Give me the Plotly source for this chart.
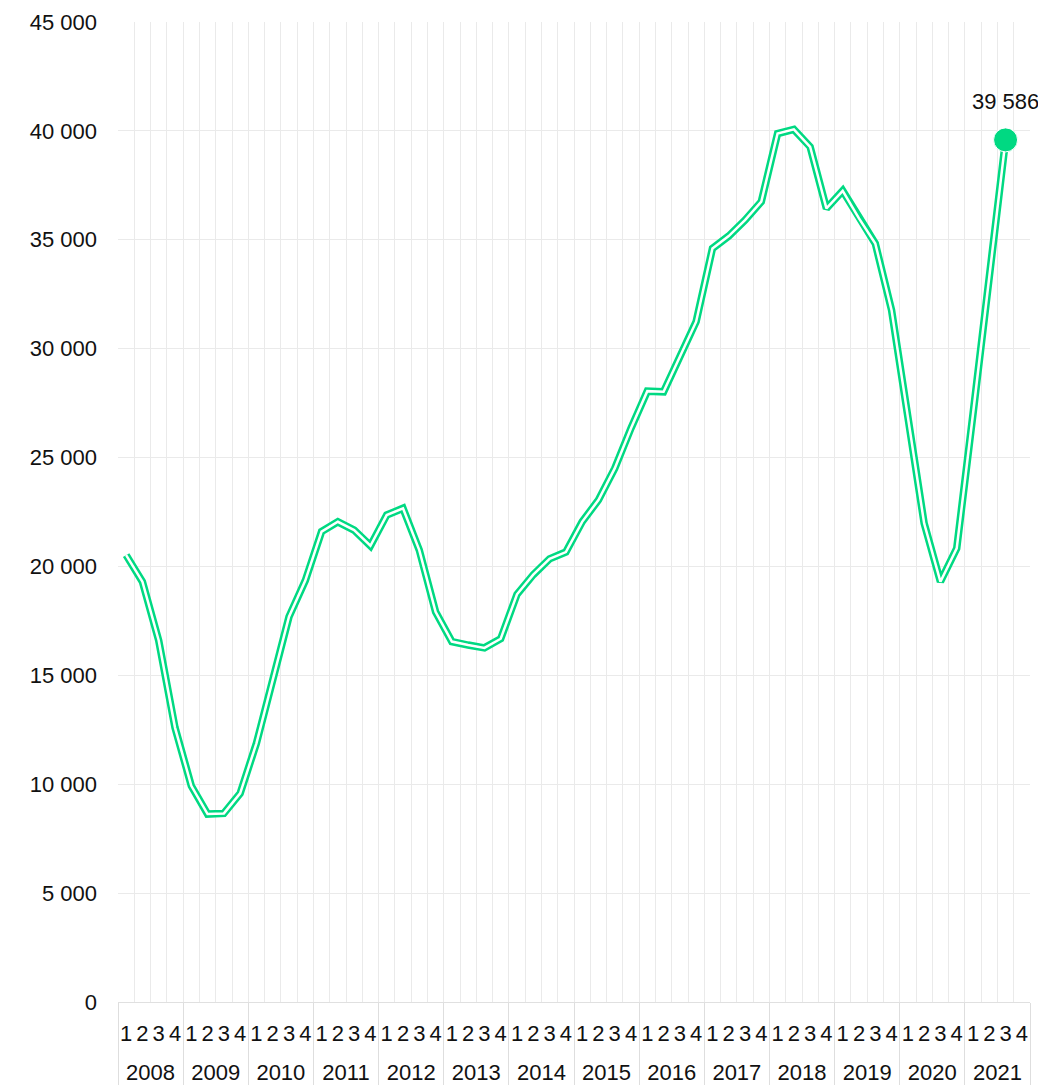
import plotly.graph_objects as go

years = [str(y) for y in range(2008, 2022)]
quarters = ["1", "2", "3", "4"]

values = [
    20520, 19300, 16600, 12600,   # 2008
    9930, 8630, 8660, 9580,       # 2009
    11880, 14780, 17690, 19350,   # 2010
    21600, 22050, 21670, 20950,   # 2011
    22360, 22670, 20750, 17920,   # 2012
    16550, 16390, 16260, 16680,   # 2013
    18720, 19620, 20350, 20660,   # 2014
    22050, 23050, 24500, 26350,   # 2015
    28050, 28020, 29630, 31240,   # 2016
    34600, 35170, 35900, 36750,   # 2017
    39880, 40070, 39270, 36440,   # 2018
    37250, 35980, 34830, 31770,   # 2019
    26870, 21980, 19300, 20830,   # 2020
    27000, 33160, 39586, None,    # 2021
]

x_cats = [f"{y} Q{q}" for y in years for q in quarters]
x_inner = [q for y in years for q in quarters]

GREEN = "#00d982"
TXT = "#111111"

last_idx = max(i for i, v in enumerate(values) if v is not None)
n_cat = len(values)

fig = go.Figure()
fig.add_trace(go.Scatter(
    x=x_cats, y=values, mode="lines",
    line=dict(color=GREEN, width=7.5), hoverinfo="skip", showlegend=False,
))
fig.add_trace(go.Scatter(
    x=x_cats, y=values, mode="lines",
    line=dict(color="white", width=2.5), hoverinfo="skip", showlegend=False,
))
fig.add_trace(go.Scatter(
    x=[x_cats[last_idx]], y=[values[last_idx]],
    mode="markers",
    marker=dict(color=GREEN, size=24, line=dict(color="white", width=1)),
    showlegend=False,
))
# invisible carrier trace for the year (outer) axis
fig.add_trace(go.Scatter(
    x=years, y=[None] * len(years), xaxis="x2", mode="lines",
    hoverinfo="skip", showlegend=False,
))
fig.add_annotation(
    x=x_cats[last_idx], y=values[last_idx], text="39 586", showarrow=False,
    yshift=38, font=dict(size=22, color=TXT),
)

fig.update_layout(
    width=1030, height=1077,
    margin=dict(l=110, r=8, t=14, b=83, autoexpand=False),
    paper_bgcolor="white", plot_bgcolor="white",
    font=dict(family="Liberation Sans, Arial, sans-serif", size=22, color=TXT),
    separators=", ",
    xaxis=dict(
        type="category", categoryorder="array", categoryarray=x_cats,
        range=[-0.5, n_cat - 0.5],
        tickmode="array", tickvals=x_cats, ticktext=x_inner,
        tickson="boundaries", tickangle=0, ticks="",
        showgrid=True, gridcolor="#eaeaea", gridwidth=1,
        tickfont=dict(size=22, color=TXT), ticklabelstandoff=16,
        showline=False, zeroline=False, automargin=False,
    ),
    xaxis2=dict(
        type="category", categoryorder="array", categoryarray=years,
        overlaying="x", anchor="y", side="bottom",
        range=[-0.5, len(years) - 0.5],
        tickson="boundaries", tickangle=0,
        ticks="outside", ticklen=83, tickwidth=1, tickcolor="#dedede",
        showgrid=False, showline=False, zeroline=False,
        tickfont=dict(size=22, color=TXT), ticklabelstandoff=55,
        automargin=False,
    ),
    yaxis=dict(
        range=[0, 45000], dtick=5000, tickformat=",d",
        showgrid=True, gridcolor="#eaeaea", gridwidth=1,
        zeroline=True, zerolinecolor="#e0e0e0", zerolinewidth=1,
        ticklabelstandoff=20, tickfont=dict(size=22, color=TXT),
        showline=False, automargin=False,
    ),
)

fig.write_html("out.html")
